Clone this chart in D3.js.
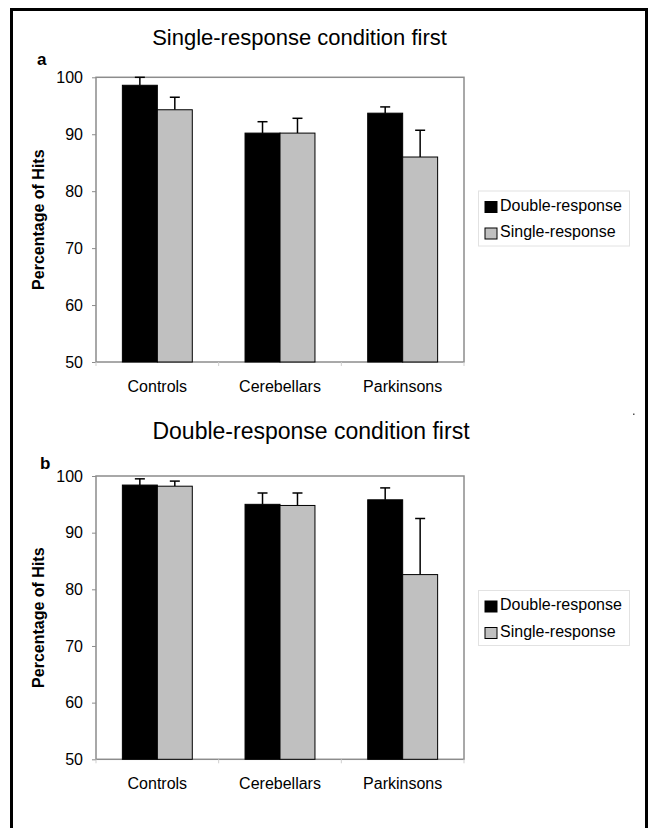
<!DOCTYPE html>
<html>
<head>
<meta charset="utf-8">
<script src="https://cdn.jsdelivr.net/npm/d3@7/dist/d3.min.js"></script>
<style>
  body { margin: 0; background: #fff; }
  text { font-family: "Liberation Sans", Arial, sans-serif; }
</style>
</head>
<body>
<svg id="chart" width="653" height="828"></svg>
<script>
var categories = ['Controls', 'Cerebellars', 'Parkinsons'];
var seriesNames = ['Double-response', 'Single-response'];
var seriesColors = ['#000000', '#c0c0c0'];
var yTicks = [50, 60, 70, 80, 90, 100];

// panel a: single-response condition first
var aDouble = [98.6, 90.2, 93.7];
var aDoubleErr = [1.4, 2.0, 1.1];
var aSingle = [94.3, 90.2, 86.0];
var aSingleErr = [2.2, 2.6, 4.7];

// panel b: double-response condition first
var bDouble = [98.4, 95.0, 95.8];
var bDoubleErr = [1.1, 2.0, 2.1];
var bSingle = [98.2, 94.8, 82.6];
var bSingleErr = [0.9, 2.2, 9.9];

var svg = d3.select('#chart');

// outer frame (bottom edge runs off the page)
svg.append('rect')
    .attr('x', 11.5).attr('y', 9.5)
    .attr('width', 635).attr('height', 900)
    .attr('fill', 'none').attr('stroke', '#000').attr('stroke-width', 3);

function panel(opts) {
    var left = 96, right = 464;
    var top = opts.top, bottom = opts.bottom;

    var x = d3.scaleBand().domain(categories).range([left, right]);
    var bw = x.bandwidth();
    var x1 = d3.scaleBand().domain(seriesNames)
        .range([bw * 0.215, bw * 0.785]);
    var y = d3.scaleLinear().domain([50, 100]).range([bottom, top]);

    var g = svg.append('g');

    g.append('text')
        .attr('x', opts.titleX).attr('y', opts.titleY)
        .attr('text-anchor', 'middle')
        .style('font-size', opts.titleSize + 'px')
        .text(opts.title);

    g.append('text')
        .attr('x', opts.letterX).attr('y', opts.letterY)
        .style('font-size', '17px').style('font-weight', 'bold')
        .text(opts.letter);

    // plot frame
    g.append('rect')
        .attr('x', left).attr('y', top)
        .attr('width', right - left).attr('height', bottom - top)
        .attr('fill', 'none').attr('stroke', '#8c8c8c').attr('stroke-width', 1.5);

    var yAxis = g.append('g')
        .attr('transform', 'translate(' + left + ',0)')
        .call(d3.axisLeft(y).tickValues(yTicks).tickSize(4).tickPadding(9));
    yAxis.select('.domain').remove();
    yAxis.selectAll('line').attr('stroke', '#8c8c8c');
    yAxis.selectAll('text')
        .style('font-size', '16px').style('font-family', '"Liberation Sans", Arial, sans-serif')
        .attr('fill', '#000');

    // category separators under the axis
    var bounds = categories.map(function(c) { return x(c); }).concat([right]);
    g.selectAll('.sep').data(bounds).enter()
        .append('line')
        .attr('x1', function(d) { return d; }).attr('x2', function(d) { return d; })
        .attr('y1', bottom).attr('y2', bottom + 4)
        .attr('stroke', '#cfcfcf');

    g.selectAll('.cat').data(categories).enter()
        .append('text')
        .attr('x', function(d) { return x(d) + bw / 2; })
        .attr('y', bottom + 30)
        .attr('text-anchor', 'middle')
        .style('font-size', '16px')
        .text(function(d) { return d; });

    g.append('text')
        .attr('transform', 'translate(44,' + ((top + bottom) / 2) + ') rotate(-90)')
        .attr('text-anchor', 'middle')
        .style('font-size', '16px').style('font-weight', 'bold')
        .text('Percentage of Hits');

    var rows = [];
    categories.forEach(function(c, i) {
        rows.push({cat: c, s: 0, v: opts.values[0][i], e: opts.errs[0][i]});
        rows.push({cat: c, s: 1, v: opts.values[1][i], e: opts.errs[1][i]});
    });

    var bars = g.selectAll('.bar').data(rows).enter().append('g');

    bars.append('line')
        .attr('x1', function(d) { return x(d.cat) + x1(seriesNames[d.s]) + x1.bandwidth() / 2; })
        .attr('x2', function(d) { return x(d.cat) + x1(seriesNames[d.s]) + x1.bandwidth() / 2; })
        .attr('y1', function(d) { return y(d.v); })
        .attr('y2', function(d) { return y(d.v + d.e); })
        .attr('stroke', '#000').attr('stroke-width', 1.5);
    bars.append('line')
        .attr('x1', function(d) { return x(d.cat) + x1(seriesNames[d.s]) + x1.bandwidth() / 2 - 5; })
        .attr('x2', function(d) { return x(d.cat) + x1(seriesNames[d.s]) + x1.bandwidth() / 2 + 5; })
        .attr('y1', function(d) { return y(d.v + d.e); })
        .attr('y2', function(d) { return y(d.v + d.e); })
        .attr('stroke', '#000').attr('stroke-width', 1.5);

    bars.append('rect')
        .attr('x', function(d) { return x(d.cat) + x1(seriesNames[d.s]); })
        .attr('y', function(d) { return y(d.v); })
        .attr('width', x1.bandwidth())
        .attr('height', function(d) { return y(50) - y(d.v); })
        .attr('fill', function(d) { return seriesColors[d.s]; })
        .attr('stroke', '#000').attr('stroke-width', 1);

    // legend
    var lg = g.append('g').attr('transform', 'translate(478.5,' + opts.legendTop + ')');
    lg.append('rect')
        .attr('width', 151).attr('height', 55)
        .attr('fill', '#fff').attr('stroke', '#e2e2e2');
    seriesNames.forEach(function(name, i) {
        lg.append('rect')
            .attr('x', 6.5).attr('y', 10.5 + i * 26.5)
            .attr('width', 12).attr('height', 11)
            .attr('fill', seriesColors[i]).attr('stroke', '#000');
        lg.append('text')
            .attr('x', 21.5).attr('y', 19.5 + i * 26.5)
            .style('font-size', '16px')
            .text(name);
    });
}

panel({
    top: 77.3, bottom: 362,
    title: 'Single-response condition first', titleX: 299.5, titleY: 45, titleSize: 22,
    letter: 'a', letterX: 37, letterY: 65,
    values: [aDouble, aSingle], errs: [aDoubleErr, aSingleErr],
    legendTop: 191
});

panel({
    top: 476, bottom: 759.3,
    title: 'Double-response condition first', titleX: 311, titleY: 439, titleSize: 23,
    letter: 'b', letterX: 40, letterY: 469,
    values: [bDouble, bSingle], errs: [bDoubleErr, bSingleErr],
    legendTop: 590.5
});

// stray dot in the original scan
svg.append('rect').attr('x', 633).attr('y', 413.5).attr('width', 1.5).attr('height', 1.5).attr('fill', '#555');
</script>
</body>
</html>
